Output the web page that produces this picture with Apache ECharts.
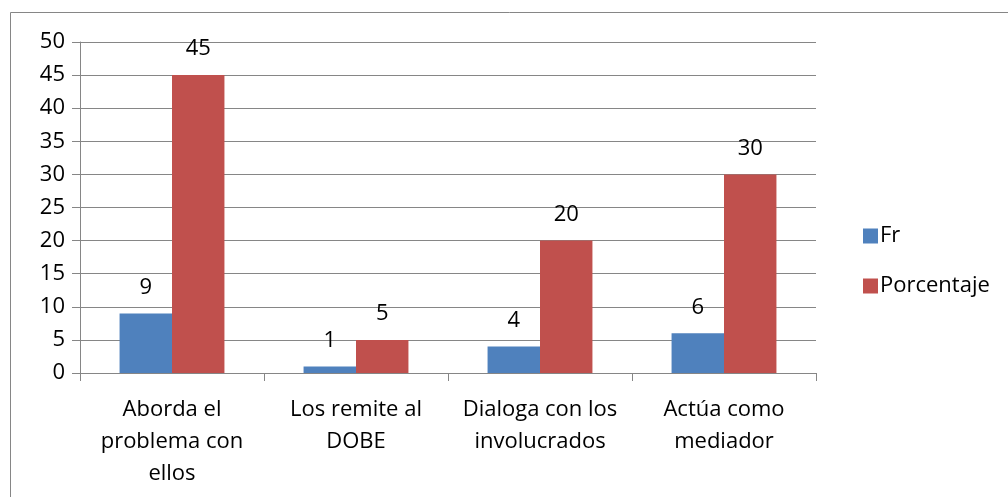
<!DOCTYPE html>
<html>
<head>
<meta charset="utf-8">
<script src="https://cdn.jsdelivr.net/npm/echarts@6/dist/echarts.min.js"></script>
<style>
  html, body { margin: 0; padding: 0; background: #fff; }
  #main { width: 1008px; height: 497px; }
</style>
</head>
<body>
<div id="main"></div>
<script>
const categories = ['Aborda el\nproblema con\nellos', 'Los remite al\nDOBE', 'Dialoga con los\ninvolucrados', 'Actúa como\nmediador'];
const frValues = [9, 1, 4, 6];
const porcentajeValues = [45, 5, 20, 30];

const font = '"Open Sans", sans-serif';
const gray = '#868686';
const fs = 22;

const chart = echarts.init(document.getElementById('main'));
chart.setOption({
  animation: false,
  textStyle: { fontFamily: font },
  graphic: [{
    type: 'rect',
    shape: { x: 10.5, y: 12.5, width: 1100, height: 600 },
    style: { fill: 'none', stroke: gray, lineWidth: 1 },
    silent: true
  }],
  grid: { left: 80, right: 192, top: 42, bottom: 124 },
  legend: {
    orient: 'vertical',
    left: 858,
    top: 220,
    itemWidth: 15,
    itemHeight: 15,
    itemGap: 28,
    icon: 'rect',
    textStyle: { fontSize: fs, color: '#000', fontFamily: font, padding: [0, 0, 0, -3] },
    data: ['Fr', 'Porcentaje']
  },
  xAxis: {
    type: 'category',
    data: categories,
    axisLine: { lineStyle: { color: gray } },
    axisTick: { show: true, length: 8, lineStyle: { color: gray } },
    axisLabel: { fontSize: fs, color: '#000', lineHeight: 32, margin: 21, interval: 0 }
  },
  yAxis: {
    type: 'value',
    min: 0,
    max: 50,
    interval: 5,
    axisLine: { show: true, lineStyle: { color: gray } },
    axisTick: { show: true, length: 8, lineStyle: { color: gray } },
    axisLabel: { fontSize: fs, color: '#000', margin: 15 },
    splitLine: { lineStyle: { color: gray } }
  },
  series: [
    {
      name: 'Fr',
      type: 'bar',
      data: frValues,
      barGap: '0%',
      barCategoryGap: '43%',
      itemStyle: { color: '#4F81BD' },
      label: { show: true, position: 'top', distance: 15, fontSize: fs, color: '#000' }
    },
    {
      name: 'Porcentaje',
      type: 'bar',
      data: porcentajeValues,
      barGap: '0%',
      barCategoryGap: '43%',
      itemStyle: { color: '#C0504D' },
      label: { show: true, position: 'top', distance: 15, fontSize: fs, color: '#000' }
    }
  ]
});
</script>
</body>
</html>
